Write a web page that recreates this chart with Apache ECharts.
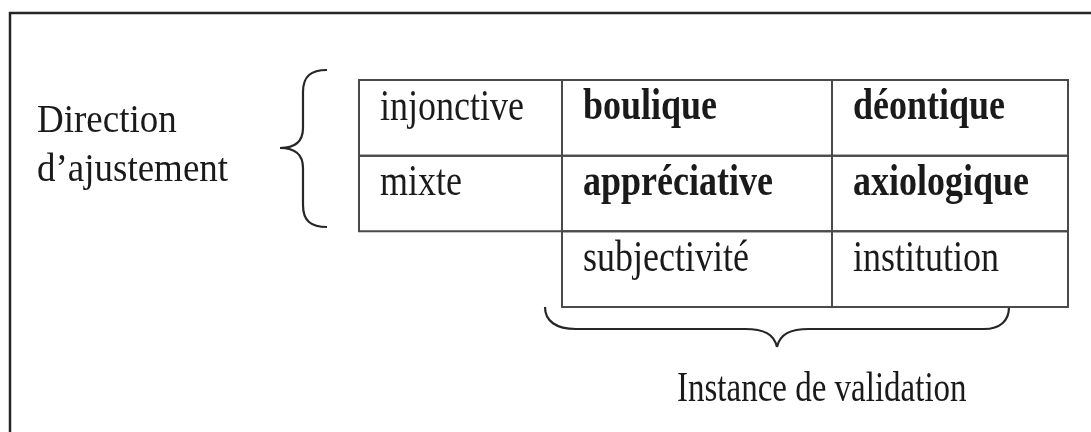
<!DOCTYPE html>
<html>
<head>
<meta charset="utf-8">
<script src="https://cdn.jsdelivr.net/npm/echarts@6/dist/echarts.min.js"></script>
<style>
html,body{margin:0;padding:0;background:#fff;}
#chart{width:1091px;height:432px;}
</style>
</head>
<body>
<div id="chart"></div>
<script>
// ---- data ----
const rowNames = ['Direction injonctive', 'Direction mixte', 'Instance'];
const fitColumn = ['injonctive', 'mixte'];
const subjectiveColumn = ['boulique', 'appréciative', 'subjectivité'];
const institutionColumn = ['déontique', 'axiologique', 'institution'];
const boldRows = [true, true, false];
const leftLabel = ['Direction', 'd\u2019ajustement'];
const bottomLabel = 'Instance de validation';

// ---- layout (styles / positions, not data) ----
const colEdges = [0, 203, 473, 709];
const FONT = '"Liberation Serif", "Times New Roman", serif';
const LINE = '#4a4a4a';
const TEXT = '#1a1a1a';
const STROKE = '#262626';

const cells = [];
fitColumn.forEach((t, r) => cells.push([0, r, t, false]));
subjectiveColumn.forEach((t, r) => cells.push([1, r, t, boldRows[r]]));
institutionColumn.forEach((t, r) => cells.push([2, r, t, boldRows[r]]));

const chart = echarts.init(document.getElementById('chart'), null, {renderer: 'canvas'});

function renderCell(params, api) {
  const c = api.value(0), r = api.value(1);
  const p0 = api.coord([colEdges[c], r]);
  const p1 = api.coord([colEdges[c + 1], r + 1]);
  const bold = cells[params.dataIndex][3];
  return {
    type: 'group',
    children: [
      {
        type: 'rect',
        shape: {x: p0[0], y: p0[1], width: p1[0] - p0[0], height: p1[1] - p0[1]},
        style: {fill: null, stroke: LINE, lineWidth: 2}
      },
      {
        type: 'text',
        x: p0[0] + 21,
        y: p0[1] + 50,
        scaleY: 1.22,
        style: {
          text: cells[params.dataIndex][2],
          x: 0, y: 0,
          fill: TEXT,
          font: (bold ? 'bold ' : '') + '36px ' + FONT,
          verticalAlign: 'bottom',
          align: 'left'
        }
      }
    ]
  };
}

function curve(a, b, c, d) {
  return {type: 'bezierCurve',
    shape: {x1: a[0], y1: a[1], cpx1: b[0], cpy1: b[1], cpx2: c[0], cpy2: c[1], x2: d[0], y2: d[1]},
    style: {stroke: STROKE, lineWidth: 2.2, fill: null}};
}
function seg(a, b) {
  return {type: 'line', shape: {x1: a[0], y1: a[1], x2: b[0], y2: b[1]},
    style: {stroke: STROKE, lineWidth: 2.2}};
}

const leftBrace = [
  curve([327, 70], [311, 70], [303, 76], [303, 92]),
  seg([303, 92], [303, 128]),
  curve([303, 128], [303, 142], [295, 148], [280, 148]),
  curve([280, 148], [295, 148], [303, 154], [303, 168]),
  seg([303, 168], [303, 205]),
  curve([303, 205], [303, 221], [311, 227], [327, 227])
];
const bottomBrace = [
  curve([545, 307], [545, 321], [556, 329], [576, 329]),
  seg([576, 329], [745, 329]),
  curve([745, 329], [764, 329], [774, 334], [777, 347]),
  curve([777, 347], [780, 334], [790, 329], [809, 329]),
  seg([809, 329], [984, 329]),
  curve([984, 329], [1000, 329], [1009, 321], [1009, 307])
];

const option = {
  backgroundColor: '#ffffff',
  animation: false,
  grid: {left: 359, top: 80, width: 709, height: 227, containLabel: false},
  xAxis: {type: 'value', min: 0, max: 709, show: false},
  yAxis: {type: 'value', min: 0, max: 3, inverse: true, show: false},
  graphic: [
    {
      type: 'polyline',
      shape: {points: [[10, 440], [10, 13], [1100, 13]]},
      style: {stroke: STROKE, lineWidth: 2.5, fill: null}
    },
    ...leftBrace,
    ...bottomBrace,
    {
      type: 'text', x: 37, y: 142, scaleY: 1.1,
      style: {text: leftLabel[0], x: 0, y: 0, fill: TEXT, font: '37px ' + FONT, verticalAlign: 'bottom'}
    },
    {
      type: 'text', x: 37, y: 191, scaleY: 1.1,
      style: {text: leftLabel[1], x: 0, y: 0, fill: TEXT, font: '37px ' + FONT, verticalAlign: 'bottom'}
    },
    {
      type: 'text', x: 677, y: 411, scaleY: 1.25,
      style: {text: bottomLabel, x: 0, y: 0, fill: TEXT, font: '33px ' + FONT, verticalAlign: 'bottom'}
    }
  ],
  series: [{
    type: 'custom',
    name: rowNames.join(' / '),
    renderItem: renderCell,
    encode: {x: 0, y: 1},
    data: cells.map(d => [d[0], d[1]]),
    silent: true,
    clip: false
  }]
};
chart.setOption(option);
</script>
</body>
</html>
